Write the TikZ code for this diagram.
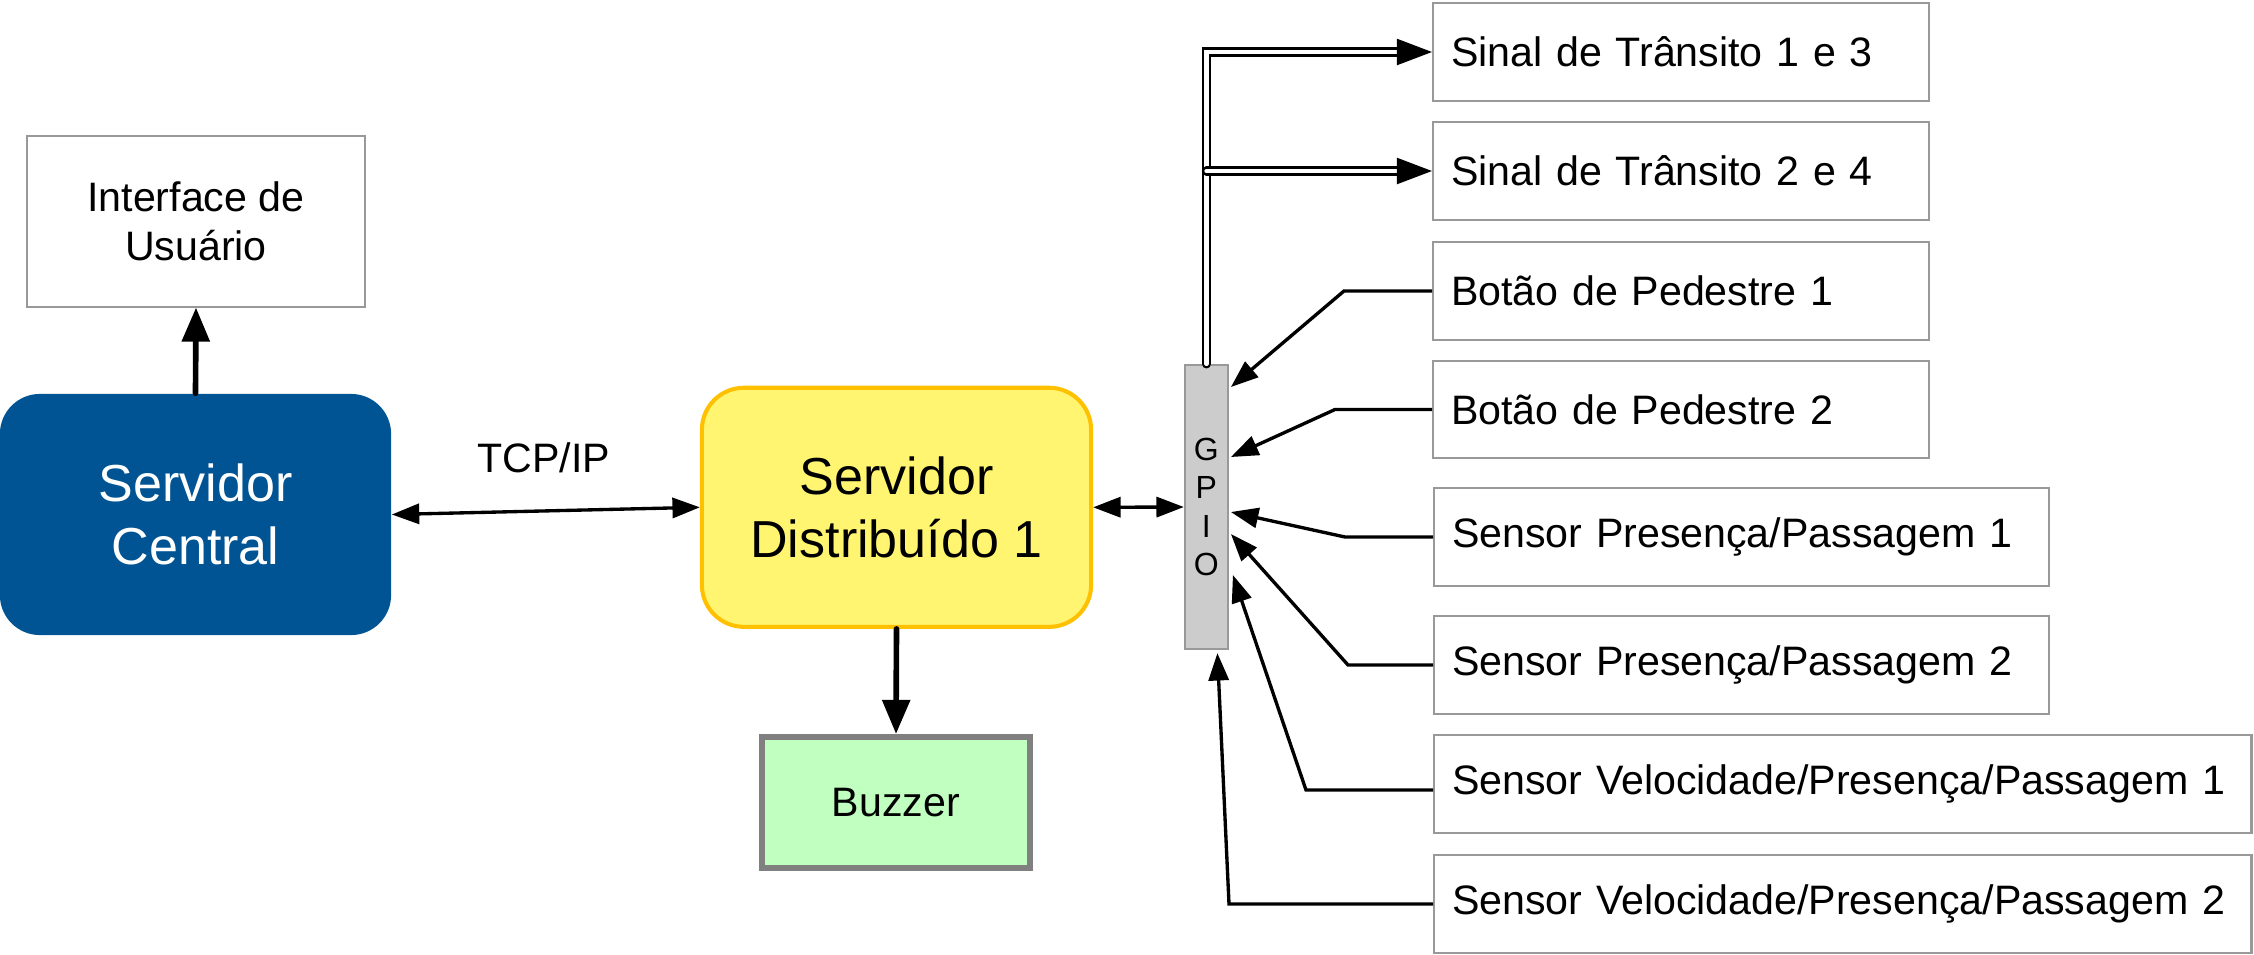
\documentclass[tikz,border=0pt]{standalone}
\usepackage{fontspec}
\setmainfont{Liberation Sans}
\usetikzlibrary{arrows.meta,calc}
\definecolor{centralblue}{HTML}{005493}
\definecolor{distfill}{HTML}{FFF570}
\definecolor{distline}{HTML}{FFC000}
\definecolor{buzzfill}{HTML}{C0FFC0}
\definecolor{buzzline}{HTML}{808080}
\definecolor{edgegray}{HTML}{999999}
\definecolor{gpiofill}{HTML}{CCCCCC}
\begin{document}
\begin{tikzpicture}[x=0.01cm,y=-0.01cm,
  every node/.style={font=\fontsize{11.7}{14}\selectfont},
  big/.style={font=\fontsize{14.8}{17.7}\selectfont},
  box/.style={draw=edgegray,line width=0.57pt,inner sep=0pt,align=center},
  rbox/.style={draw=edgegray,line width=0.57pt,anchor=west,minimum height=0.97cm,
    inner xsep=0.18cm,inner ysep=0pt,text width=#1,align=left},
  arr/.style={line width=0.95pt,-{Triangle[length=7.8pt,width=5.7pt]}},
  arrboth/.style={line width=0.95pt,{Triangle[length=7.8pt,width=5.7pt]}-{Triangle[length=7.8pt,width=5.7pt]}},
  arrbig/.style={line width=1.6pt,line cap=round,-{Triangle[length=9.7pt,width=7.7pt]}},
  dbl/.style={double=white,double distance=1.2pt,line width=0.7pt,line cap=round,
    -{Triangle[length=10pt,width=7.4pt]}}]
 \useasboundingbox (0,0) rectangle (2254,954);
 % servers and peripherals
 \node[box,minimum width=3.38cm,minimum height=1.70cm] (ui) at (196,221.5) {Interface de\\Usuário};
 \node[big,fill=centralblue,text=white,rounded corners=0.4cm,align=center,
   minimum width=3.91cm,minimum height=2.41cm] (central) at (195.5,514.5) {Servidor\\Central};
 \node[big,draw=distline,fill=distfill,line width=1.15pt,rounded corners=0.42cm,align=center,
   minimum width=3.89cm,minimum height=2.39cm] (dist) at (896.5,507.3) {Servidor\\Distribuído 1};
 \node[draw=buzzline,fill=buzzfill,line width=1.7pt,minimum width=2.68cm,minimum height=1.31cm]
   (buzz) at (896,802.5) {Buzzer};
 \node[draw=edgegray,fill=gpiofill,line width=0.57pt,inner sep=0pt,align=center,
   minimum width=0.43cm,minimum height=2.84cm,font=\fontsize{9.1}{10.9}\selectfont]
   (gpio) at (1206.4,507) {G\\P\\I\\O};
 \node (tcp) at (544,458) {TCP/IP};
 % GPIO devices
 \node[rbox=4.60cm] (s13) at (1432,52) {Sinal de Trânsito 1 e 3};
 \node[rbox=4.60cm] (s24) at (1432,171) {Sinal de Trânsito 2 e 4};
 \node[rbox=4.60cm] (b1) at (1432,291) {Botão de Pedestre 1};
 \node[rbox=4.60cm] (b2) at (1432,409.5) {Botão de Pedestre 2};
 \node[rbox=5.79cm] (pp1) at (1433,537) {Sensor Presença/Passagem 1};
 \node[rbox=5.79cm] (pp2) at (1433,665) {Sensor Presença/Passagem 2};
 \node[rbox=7.81cm] (v1) at (1433,784) {Sensor Velocidade/Presença/Passagem 1};
 \node[rbox=7.81cm] (v2) at (1433,904) {Sensor Velocidade/Presença/Passagem 2};
 % connections
 \draw[arrbig] (central.north) -- (ui.south);
 \draw[arrboth] (central.east) -- (dist.west);
 \draw[arrboth] (dist.east) -- (gpio.west);
 \draw[arrbig] (dist.south) -- (buzz.north);
 \draw[dbl] (gpio.north) |- (s13.west);
 \draw[dbl] (gpio.north |- s24.west) -- (s24.west);
 \foreach \src/\dx/\dy in {b1/-88/-120,b2/-97/-50,pp1/-88/5,pp2/-85/27}
   \draw[arr] (\src.west) -- ++(\dx,0) -- ($(gpio.east)+(2,\dy)$);
 \draw[arr] ([yshift=-0.06cm]v1.west) -- ++(-127,0) -- ($(gpio.east)+(4,68)$);
 \draw[arr] (v2.west) -- ++(-204,0) -- ($(gpio.south)+(11,3)$);
\end{tikzpicture}
\end{document}
